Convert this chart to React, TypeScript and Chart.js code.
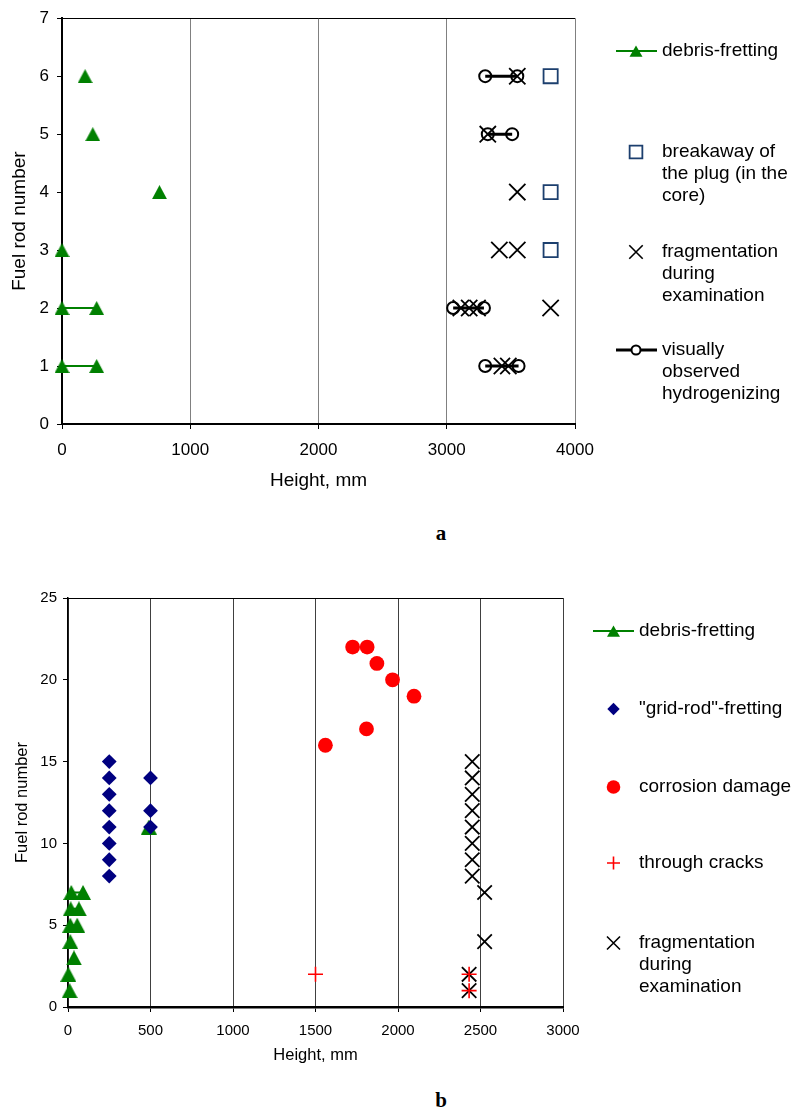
import React, { useEffect, useRef } from 'react';
import { Chart, registerables } from 'chart.js';

Chart.register(...registerables);

const FONT = "'Liberation Sans', Arial, Helvetica, sans-serif";
const GREEN = '#008000';
const NAVY = '#000080';
const RED = '#FF0000';
const PLUG_BLUE = '#1c3f6e';

// ---------- Chart a ----------
const xTicksA = [0, 1000, 2000, 3000, 4000];
const yTicksA = [0, 1, 2, 3, 4, 5, 6, 7];
const debrisRodsA = [1, 2, 3, 4, 5, 6];
const debrisHeightsA = [[0, 270], [0, 270], [0], [760], [240], [180]];
const plugRodsA = [3, 4, 6];
const plugHeightsA = [3810, 3810, 3810];
const fragRodsA = [1, 2, 3, 4, 5, 6];
const fragHeightsA = [[3430, 3480], [3110, 3175, 3240, 3810], [3410, 3550], [3550], [3320], [3550]];
const hydroRodsA = [1, 2, 5, 6];
const hydroHeightsA = [[3300, 3560], [3050, 3290], [3320, 3510], [3300, 3550]];

// ---------- Chart b ----------
const xTicksB = [0, 500, 1000, 1500, 2000, 2500, 3000];
const yTicksB = [0, 5, 10, 15, 20, 25];
const debrisRodsB = [1, 2, 3, 4, 5, 6, 7, 11];
const debrisHeightsB = [[10], [2], [36], [14], [14, 56], [16, 66], [20, 91], [490]];
const gridRodRodsB = [8, 9, 10, 11, 12, 13, 14, 15, 11, 12, 14];
const gridRodHeightsB = [250, 250, 250, 250, 250, 250, 250, 250, 500, 500, 500];
const corrosionRodsB = [16, 22, 22, 21, 20, 19, 17];
const corrosionHeightsB = [1560, 1725, 1813, 1872, 1967, 2097, 1809];
const crackRodsB = [2, 2, 1];
const crackHeightsB = [1500, 2431, 2431];
const fragRodsB = [8, 9, 10, 11, 12, 13, 14, 15, 7, 4, 2, 1];
const fragHeightsB = [2450, 2450, 2450, 2450, 2450, 2450, 2450, 2450, 2525, 2525, 2431, 2431];

type Pt = { x: number; y: number | null };

function groupedLine(rods: number[], groups: number[][]): Pt[] {
  const pts: Pt[] = [];
  rods.forEach((r, i) => {
    groups[i].forEach((h) => pts.push({ x: h, y: r }));
    pts.push({ x: groups[i][0], y: null });
  });
  return pts;
}
function groupedFlat(rods: number[], groups: number[][]): Pt[] {
  const pts: Pt[] = [];
  rods.forEach((r, i) => groups[i].forEach((h) => pts.push({ x: h, y: r })));
  return pts;
}
function flat(rods: number[], heights: number[]): Pt[] {
  return rods.map((r, i) => ({ x: heights[i], y: r }));
}

const plainLabel = (v: any) => String(v);

// triangle marker centred on its bounding box (like the original spreadsheet marker)
function triangleImage(w: number, h: number, color: string): HTMLCanvasElement {
  const c = document.createElement('canvas');
  c.width = w;
  c.height = h;
  const g = c.getContext('2d')!;
  g.fillStyle = color;
  g.beginPath();
  g.moveTo(w / 2, 0);
  g.lineTo(w, h);
  g.lineTo(0, h);
  g.closePath();
  g.fill();
  return c;
}

function drawMarker(
  ctx: CanvasRenderingContext2D,
  style: string,
  x: number,
  y: number,
  r: number,
  stroke: string,
  fill: string | null,
  lw: number
) {
  ctx.save();
  ctx.beginPath();
  ctx.lineWidth = lw;
  ctx.strokeStyle = stroke;
  if (style === 'triangle') {
    const hw = r * 0.866;
    ctx.moveTo(x, y - 0.75 * r);
    ctx.lineTo(x + hw, y + 0.75 * r);
    ctx.lineTo(x - hw, y + 0.75 * r);
    ctx.closePath();
  } else if (style === 'rect') {
    const s = r * Math.SQRT1_2;
    ctx.rect(x - s, y - s, 2 * s, 2 * s);
  } else if (style === 'rectRot') {
    ctx.moveTo(x, y - r);
    ctx.lineTo(x + r, y);
    ctx.lineTo(x, y + r);
    ctx.lineTo(x - r, y);
    ctx.closePath();
  } else if (style === 'circle') {
    ctx.arc(x, y, r, 0, Math.PI * 2);
  } else if (style === 'cross') {
    ctx.moveTo(x - r, y);
    ctx.lineTo(x + r, y);
    ctx.moveTo(x, y - r);
    ctx.lineTo(x, y + r);
  } else if (style === 'crossRot') {
    const d = r * Math.SQRT1_2;
    ctx.moveTo(x - d, y - d);
    ctx.lineTo(x + d, y + d);
    ctx.moveTo(x - d, y + d);
    ctx.lineTo(x + d, y - d);
  }
  if (fill) {
    ctx.fillStyle = fill;
    ctx.fill();
  }
  if (lw > 0) ctx.stroke();
  ctx.restore();
}

type LegendItem = {
  y: number;
  lines: string[];
  style: string;
  r: number;
  stroke: string;
  fill: string | null;
  lw: number;
  lineColor?: string;
  lineWidth?: number;
};

function legendPlugin(
  id: string,
  items: LegendItem[],
  offs: { marker: number; lineFrom: number; lineTo: number; text: number },
  fontSize: number,
  lineH: number
) {
  return {
    id,
    afterDraw(chart: any) {
      const { ctx, chartArea } = chart;
      // top border of the plot area
      ctx.save();
      ctx.strokeStyle = '#000';
      ctx.lineWidth = 1;
      ctx.beginPath();
      ctx.moveTo(chartArea.left, Math.round(chartArea.top) + 0.5);
      ctx.lineTo(chartArea.right, Math.round(chartArea.top) + 0.5);
      ctx.stroke();
      ctx.restore();

      const R = chartArea.right;
      items.forEach((it) => {
        if (it.lineColor) {
          ctx.save();
          ctx.strokeStyle = it.lineColor;
          ctx.lineWidth = it.lineWidth || 2;
          ctx.beginPath();
          ctx.moveTo(R + offs.lineFrom, it.y);
          ctx.lineTo(R + offs.lineTo, it.y);
          ctx.stroke();
          ctx.restore();
        }
        drawMarker(ctx, it.style, R + offs.marker, it.y, it.r, it.stroke, it.fill, it.lw);
        ctx.save();
        ctx.fillStyle = '#000';
        ctx.font = `${fontSize}px ${FONT}`;
        ctx.textAlign = 'left';
        ctx.textBaseline = 'middle';
        it.lines.forEach((t, k) => ctx.fillText(t, R + offs.text, it.y + k * lineH));
        ctx.restore();
      });
    },
  };
}

function makeChartA(canvas: HTMLCanvasElement) {
  const legend = legendPlugin(
    'legendA',
    [
      { y: 51, lines: ['debris-fretting'], style: 'triangle', r: 7.5, stroke: GREEN, fill: GREEN, lw: 0, lineColor: GREEN, lineWidth: 2 },
      { y: 152, lines: ['breakaway of', 'the plug (in the', 'core)'], style: 'rect', r: 9, stroke: PLUG_BLUE, fill: '#fff', lw: 1.8 },
      { y: 252, lines: ['fragmentation', 'during', 'examination'], style: 'crossRot', r: 9.5, stroke: '#000', fill: null, lw: 1.6 },
      { y: 350, lines: ['visually', 'observed', 'hydrogenizing'], style: 'circle', r: 4.5, stroke: '#000', fill: '#fff', lw: 2, lineColor: '#000', lineWidth: 3 },
    ],
    { marker: 61, lineFrom: 41, lineTo: 82, text: 87 },
    19,
    22
  );
  return new Chart(canvas, {
    type: 'scatter',
    data: {
      datasets: [
        {
          label: 'debris-fretting',
          data: groupedLine(debrisRodsA, debrisHeightsA) as any,
          showLine: true,
          borderColor: GREEN,
          backgroundColor: GREEN,
          borderWidth: 2,
          pointStyle: triangleImage(15, 14, GREEN) as any,
          pointRadius: 8,
          clip: false as any,
          order: 2,
        },
        {
          label: 'breakaway of the plug (in the core)',
          data: flat(plugRodsA, plugHeightsA) as any,
          pointStyle: 'rect',
          pointRadius: 10,
          pointBackgroundColor: '#fff',
          pointBorderColor: PLUG_BLUE,
          pointBorderWidth: 1.8,
          clip: false as any,
          order: 1,
        },
        {
          label: 'fragmentation during examination',
          data: groupedFlat(fragRodsA, fragHeightsA) as any,
          pointStyle: 'crossRot',
          pointRadius: 11.5,
          pointBorderColor: '#000',
          pointBorderWidth: 1.8,
          clip: false as any,
          order: 1,
        },
        {
          label: 'visually observed hydrogenizing',
          data: groupedLine(hydroRodsA, hydroHeightsA) as any,
          showLine: true,
          borderColor: '#000',
          borderWidth: 3,
          pointStyle: 'circle',
          pointRadius: 6,
          pointBackgroundColor: 'rgba(0,0,0,0)',
          pointBorderColor: '#000',
          pointBorderWidth: 2,
          clip: false as any,
          order: 3,
        },
      ],
    },
    options: {
      responsive: false,
      animation: false,
      events: [],
      layout: { padding: { top: 18, right: 230, bottom: 0, left: 0 } },
      plugins: { legend: { display: false }, tooltip: { enabled: false } },
      scales: {
        x: {
          type: 'linear',
          min: 0,
          max: 4000,
          afterBuildTicks: (s: any) => {
            s.ticks = xTicksA.map((v) => ({ value: v }));
          },
          afterFit: (s: any) => {
            s.height = 76;
          },
          ticks: { font: { family: FONT, size: 17 }, color: '#000', padding: 11, maxRotation: 0, callback: plainLabel },
          grid: { color: '#808080', lineWidth: 1, tickColor: '#000', tickLength: 5 },
          border: { color: '#000', width: 2 },
          title: {
            display: true,
            text: 'Height, mm',
            font: { family: FONT, size: 19 },
            color: '#000',
            padding: { top: 0, bottom: 7.6 },
          },
        },
        y: {
          type: 'linear',
          min: 0,
          max: 7,
          afterBuildTicks: (s: any) => {
            s.ticks = yTicksA.map((v) => ({ value: v }));
          },
          afterFit: (s: any) => {
            s.width = 62;
          },
          ticks: { font: { family: FONT, size: 17 }, color: '#000', padding: 8, callback: plainLabel },
          grid: { drawOnChartArea: false, color: '#000', tickLength: 5 },
          border: { color: '#000', width: 2 },
          title: {
            display: true,
            text: 'Fuel rod number',
            font: { family: FONT, size: 19 },
            color: '#000',
            padding: { top: 8.6, bottom: 0 },
          },
        },
      },
    },
    plugins: [legend as any],
  });
}

function makeChartB(canvas: HTMLCanvasElement) {
  const legend = legendPlugin(
    'legendB',
    [
      { y: 71, lines: ['debris-fretting'], style: 'triangle', r: 7.5, stroke: GREEN, fill: GREEN, lw: 0, lineColor: GREEN, lineWidth: 2 },
      { y: 149, lines: ['"grid-rod"-fretting'], style: 'rectRot', r: 6.2, stroke: NAVY, fill: NAVY, lw: 0 },
      { y: 227, lines: ['corrosion damage'], style: 'circle', r: 6.8, stroke: RED, fill: RED, lw: 0 },
      { y: 303, lines: ['through cracks'], style: 'cross', r: 6.5, stroke: RED, fill: null, lw: 1.6 },
      { y: 383, lines: ['fragmentation', 'during', 'examination'], style: 'crossRot', r: 9.2, stroke: '#000', fill: null, lw: 1.6 },
    ],
    { marker: 50.5, lineFrom: 30, lineTo: 71, text: 76 },
    19,
    22
  );
  return new Chart(canvas, {
    type: 'scatter',
    data: {
      datasets: [
        {
          label: 'debris-fretting',
          data: groupedLine(debrisRodsB, debrisHeightsB) as any,
          showLine: true,
          borderColor: GREEN,
          backgroundColor: GREEN,
          borderWidth: 2,
          pointStyle: triangleImage(16, 15, GREEN) as any,
          pointRadius: 8,
          clip: false as any,
          order: 3,
        },
        {
          label: '"grid-rod"-fretting',
          data: flat(gridRodRodsB, gridRodHeightsB) as any,
          pointStyle: 'rectRot',
          pointRadius: 7.4,
          pointBackgroundColor: NAVY,
          pointBorderColor: NAVY,
          pointBorderWidth: 0,
          clip: false as any,
          order: 2,
        },
        {
          label: 'corrosion damage',
          data: flat(corrosionRodsB, corrosionHeightsB) as any,
          pointStyle: 'circle',
          pointRadius: 7.4,
          pointBackgroundColor: RED,
          pointBorderColor: RED,
          pointBorderWidth: 0,
          clip: false as any,
          order: 2,
        },
        {
          label: 'through cracks',
          data: flat(crackRodsB, crackHeightsB) as any,
          pointStyle: 'cross',
          pointRadius: 7.5,
          pointBorderColor: RED,
          pointBorderWidth: 1.6,
          clip: false as any,
          order: 1,
        },
        {
          label: 'fragmentation during examination',
          data: flat(fragRodsB, fragHeightsB) as any,
          pointStyle: 'crossRot',
          pointRadius: 10.2,
          pointBorderColor: '#000',
          pointBorderWidth: 1.8,
          clip: false as any,
          order: 2,
        },
      ],
    },
    options: {
      responsive: false,
      animation: false,
      events: [],
      layout: { padding: { top: 38, right: 242, bottom: 0, left: 0 } },
      plugins: { legend: { display: false }, tooltip: { enabled: false } },
      scales: {
        x: {
          type: 'linear',
          min: 0,
          max: 3000,
          afterBuildTicks: (s: any) => {
            s.ticks = xTicksB.map((v) => ({ value: v }));
          },
          afterFit: (s: any) => {
            s.height = 73;
          },
          ticks: { font: { family: FONT, size: 15 }, color: '#000', padding: 10, maxRotation: 0, callback: plainLabel },
          grid: { color: '#404040', lineWidth: 1, tickColor: '#000', tickLength: 5 },
          border: { color: '#000', width: 2.5 },
          title: {
            display: true,
            text: 'Height, mm',
            font: { family: FONT, size: 16.5 },
            color: '#000',
            padding: { top: 0, bottom: 15 },
          },
        },
        y: {
          type: 'linear',
          min: 0,
          max: 25,
          afterBuildTicks: (s: any) => {
            s.ticks = yTicksB.map((v) => ({ value: v }));
          },
          afterFit: (s: any) => {
            s.width = 68;
          },
          ticks: { font: { family: FONT, size: 15 }, color: '#000', padding: 6, callback: plainLabel },
          grid: { drawOnChartArea: false, color: '#000', tickLength: 5 },
          border: { color: '#000', width: 1.5 },
          title: {
            display: true,
            text: 'Fuel rod number',
            font: { family: FONT, size: 16.5 },
            color: '#000',
            padding: { top: 12.5, bottom: 0 },
          },
        },
      },
    },
    plugins: [legend as any],
  });
}

export default function App() {
  const refA = useRef<HTMLCanvasElement | null>(null);
  const refB = useRef<HTMLCanvasElement | null>(null);

  useEffect(() => {
    const a = refA.current ? makeChartA(refA.current) : null;
    const b = refB.current ? makeChartB(refB.current) : null;
    return () => {
      a && a.destroy();
      b && b.destroy();
    };
  }, []);

  const labelStyle: React.CSSProperties = {
    position: 'absolute',
    left: 441,
    transform: 'translate(-50%, -50%)',
    fontFamily: "'Liberation Serif', 'Times New Roman', serif",
    fontWeight: 'bold',
    fontSize: 21,
    color: '#000',
    lineHeight: 1,
  };

  return (
    <div style={{ position: 'absolute', left: 0, top: 0, width: 805, height: 1118, background: '#fff' }}>
      <canvas ref={refA} width={805} height={500} style={{ position: 'absolute', left: 0, top: 0 }} />
      <div style={{ ...labelStyle, top: 533 }}>a</div>
      <canvas ref={refB} width={805} height={520} style={{ position: 'absolute', left: 0, top: 560 }} />
      <div style={{ ...labelStyle, top: 1100 }}>b</div>
    </div>
  );
}
